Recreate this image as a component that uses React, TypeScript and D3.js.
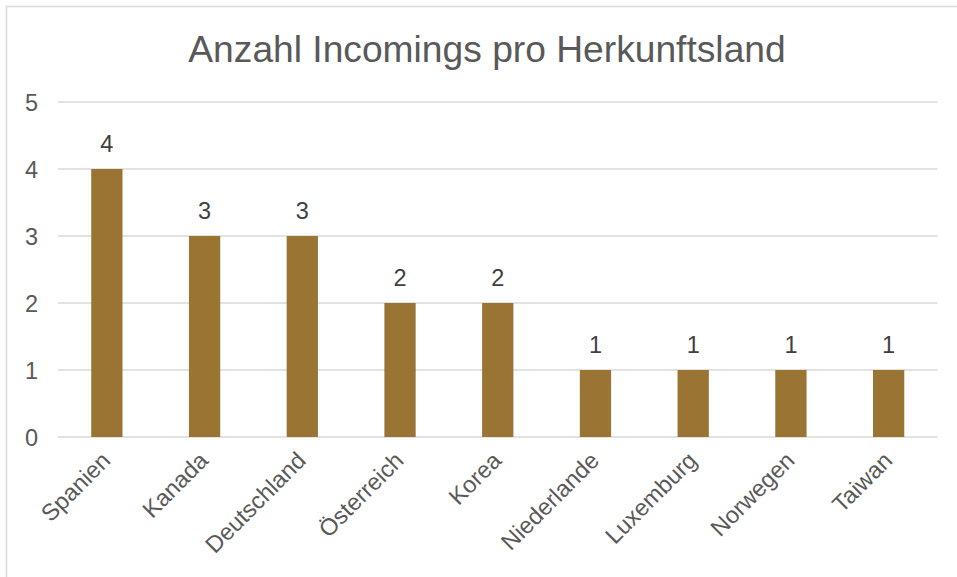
import React from "react";
import * as d3 from "d3";

const categories = ["Spanien", "Kanada", "Deutschland", "Österreich", "Korea", "Niederlande", "Luxemburg", "Norwegen", "Taiwan"];
const values = [4, 3, 3, 2, 2, 1, 1, 1, 1];
const yTicks = [0, 1, 2, 3, 4, 5];
const title = "Anzahl Incomings pro Herkunftsland";

const W = 957;
const H = 577;
const FONT = "'Liberation Sans', Arial, sans-serif";
const TEXT = "#595959";
const GRID = "#d9d9d9";
const BAR = "#997433";

export default function App() {
  const x = d3.scaleBand<string>().domain(categories).range([58, 937.5]).paddingInner(0.68).paddingOuter(0.34);
  const y = d3.scaleLinear().domain([0, 5]).range([437, 102]);

  return (
    <svg width={W} height={H} style={{ position: "absolute", left: 0, top: 0, background: "#fff" }} fontFamily={FONT}>
      <rect x={6.5} y={6.5} width={1000} height={1000} fill="#fff" stroke={GRID} strokeWidth={1.5} />
      <text x={487} y={62} textAnchor="middle" fontSize={37.2} fill={TEXT}>{title}</text>
      {yTicks.map((t) => (
        <g key={t}>
          <line x1={58} x2={937.5} y1={y(t)} y2={y(t)} stroke={GRID} strokeWidth={1.5} />
          <text x={38} y={y(t) + 8.5} textAnchor="end" fontSize={23.5} fill={TEXT}>{t}</text>
        </g>
      ))}
      {categories.map((c, i) => {
        const bx = x(c)!;
        const cx = bx + x.bandwidth() / 2;
        return (
          <g key={c}>
            <rect x={bx} y={y(values[i])} width={x.bandwidth()} height={y(0) - y(values[i])} fill={BAR} />
            <text x={cx} y={y(values[i]) - 17} textAnchor="middle" fontSize={23.5} fill={"#404040"}>{values[i]}</text>
            <text
              transform={`translate(${cx + 5},${y(0) + 25}) rotate(-45)`}
              textAnchor="end"
              fontSize={23.5}
              fill={TEXT}
            >{c}</text>
          </g>
        );
      })}
    </svg>
  );
}
